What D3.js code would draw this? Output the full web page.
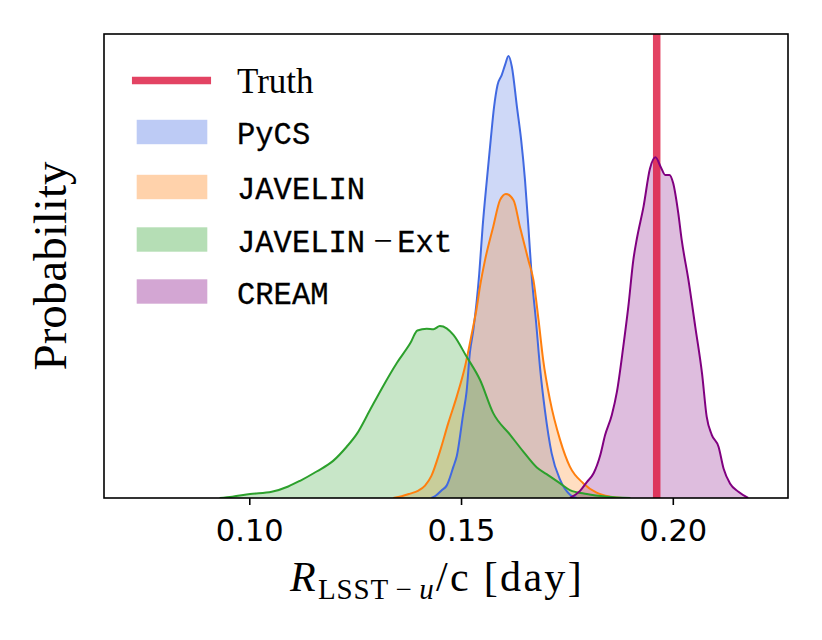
<!DOCTYPE html>
<html>
<head>
<meta charset="utf-8">
<script src="https://cdn.jsdelivr.net/npm/d3@7/dist/d3.min.js"></script>
<style>
  body { margin: 0; background: #fff; }
</style>
</head>
<body>
<div id="graf"></div>
<script>
// Datos (densidad relativa, pico de PyCS = 100)
const seriesNames = ["PyCS", "JAVELIN", "JAVELIN−Ext", "CREAM"]
const seriesColors = ["#4169e1", "#ff7f0e", "#2ca02c", "#800080"]
const truthDelay = 0.1962
const xTicks = [0.10, 0.15, 0.20]

const pycsDelay = [0.1430, 0.1440, 0.1455, 0.1466, 0.1482, 0.1490, 0.1505, 0.1513, 0.1521, 0.1529, 0.1543, 0.1551, 0.1561, 0.1570, 0.1578, 0.1586, 0.1596, 0.1604, 0.1612, 0.1620, 0.1632, 0.1642, 0.1651, 0.1659, 0.1667, 0.1677, 0.1687, 0.1698, 0.1714, 0.1734, 0.1758, 0.1773]
const pycsDensity = [0, 0.5, 1.8, 2.8, 7.1, 9.5, 19, 24, 33, 38, 50.8, 61.4, 72, 81, 88.5, 93.4, 95.7, 98, 100, 97.6, 88.5, 81, 72, 61.4, 50, 40, 29, 19.9, 10.1, 4.1, 0.7, 0]

const javelinDelay = [0.1340, 0.1360, 0.1380, 0.1398, 0.1415, 0.1430, 0.1450, 0.1470, 0.1490, 0.1510, 0.1525, 0.1537, 0.1545, 0.1557, 0.1576, 0.1592, 0.1606, 0.1624, 0.1639, 0.1659, 0.1671, 0.1683, 0.1694, 0.1710, 0.1734, 0.1757, 0.1789, 0.1820, 0.1852, 0.1880]
const javelinDensity = [0, 0.4, 1.0, 1.6, 2.8, 5.0, 10.5, 17, 23, 30, 37, 43, 48, 54, 61.4, 67.4, 68.8, 67.4, 61.4, 53.8, 49.3, 40.3, 31.2, 22.2, 13.1, 7.1, 3.3, 1.2, 0.3, 0]

const extDelay = [0.0930, 0.0960, 0.1002, 0.1053, 0.1092, 0.1120, 0.1159, 0.1198, 0.1230, 0.1254, 0.1285, 0.1313, 0.1348, 0.1380, 0.1397, 0.1419, 0.1435, 0.1450, 0.1466, 0.1482, 0.1513, 0.1545, 0.1576, 0.1616, 0.1647, 0.1679, 0.1702, 0.1734, 0.1757, 0.1797, 0.1844, 0.1900]
const extDensity = [0, 0.3, 0.9, 1.4, 2.6, 3.9, 6.0, 8.4, 11.6, 14.5, 19.9, 24.8, 30.5, 35.0, 37.9, 38.3, 38.2, 38.9, 38.4, 36.9, 32.0, 26.7, 19.2, 14.3, 10.5, 6.9, 5.4, 3.3, 1.8, 0.9, 0.3, 0]

const creamDelay = [0.1757, 0.1781, 0.1797, 0.1813, 0.1829, 0.1840, 0.1856, 0.1868, 0.1883, 0.1895, 0.1907, 0.1915, 0.1931, 0.1946, 0.1959, 0.1972, 0.1982, 0.1992, 0.2001, 0.2013, 0.2021, 0.2037, 0.2053, 0.2069, 0.2080, 0.2092, 0.2108, 0.2120, 0.2135, 0.2155, 0.2178]
const creamDensity = [0, 1.6, 3.6, 5.6, 9.8, 14.2, 18.8, 24, 34.2, 43.3, 54, 58.6, 66, 74.5, 77.1, 74.8, 73.1, 73.1, 71.2, 64.4, 58.4, 49.3, 38.8, 28.2, 18.4, 14.3, 11.6, 6.6, 3.3, 1.4, 0]

const draw = () => {
  const anchoTotal = 822
  const altoTotal = 640
  const box = { left: 104, right: 788, top: 34, bottom: 498 }

  const delays = [pycsDelay, javelinDelay, extDelay, creamDelay]
  const densities = [pycsDensity, javelinDensity, extDensity, creamDensity]
  const series = seriesNames.map((name, i) => ({
    name,
    color: seriesColors[i],
    values: delays[i].map((d, j) => [d, densities[i][j]]),
  }))

  // Escaladores
  const x = d3.scaleLinear().domain([0.0657, 0.2272]).range([box.left, box.right])
  const y = d3.scaleLinear().domain([0, 105]).range([box.bottom, box.top])

  const svg = d3
    .select("#graf")
    .append("svg")
    .attr("width", anchoTotal)
    .attr("height", altoTotal)

  svg
    .append("clipPath")
    .attr("id", "clip")
    .append("rect")
    .attr("x", box.left)
    .attr("y", box.top)
    .attr("width", box.right - box.left)
    .attr("height", box.bottom - box.top)

  const chart = svg.append("g").attr("clip-path", "url(#clip)")

  const area = d3
    .area()
    .x((d) => x(d[0]))
    .y0(y(0))
    .y1((d) => y(d[1]))
    .curve(d3.curveMonotoneX)
  const line = d3
    .line()
    .x((d) => x(d[0]))
    .y((d) => y(d[1]))
    .curve(d3.curveMonotoneX)

  // Rellenos
  chart
    .selectAll("path.fill")
    .data(series)
    .join("path")
    .attr("class", "fill")
    .attr("d", (d) => area(d.values))
    .attr("fill", (d) => d.color)
    .attr("fill-opacity", 0.26)

  // Valor verdadero
  chart
    .append("line")
    .attr("x1", x(truthDelay))
    .attr("x2", x(truthDelay))
    .attr("y1", box.top)
    .attr("y2", box.bottom)
    .attr("stroke", "#dc143c")
    .attr("stroke-opacity", 0.8)
    .attr("stroke-width", 7.5)

  // Curvas
  chart
    .selectAll("path.curve")
    .data(series)
    .join("path")
    .attr("class", "curve")
    .attr("d", (d) => line(d.values))
    .attr("fill", "none")
    .attr("stroke", (d) => d.color)
    .attr("stroke-width", 2)
    .attr("stroke-linejoin", "round")

  // Eje x
  const xAxis = d3
    .axisBottom(x)
    .tickValues(xTicks)
    .tickFormat(d3.format(".2f"))
    .tickSize(7)
    .tickSizeOuter(0)
    .tickPadding(14)

  const xAxisGroup = svg
    .append("g")
    .attr("transform", `translate(0, ${box.bottom})`)
    .call(xAxis)
  xAxisGroup.select(".domain").remove()
  xAxisGroup.selectAll("line").attr("stroke", "#000").attr("stroke-width", 1.6)
  xAxisGroup
    .selectAll("text")
    .attr("fill", "#000")
    .style("font-family", "'DejaVu Sans'")
    .style("font-size", "30.5px")

  // Marco
  svg
    .append("rect")
    .attr("x", box.left)
    .attr("y", box.top)
    .attr("width", box.right - box.left)
    .attr("height", box.bottom - box.top)
    .attr("fill", "none")
    .attr("stroke", "#000")
    .attr("stroke-width", 1.6)

  // Etiquetas de ejes
  const xLabel = svg
    .append("text")
    .attr("x", 437)
    .attr("y", 591)
    .attr("text-anchor", "middle")
    .style("font-family", "'Liberation Serif'")
    .style("font-size", "42px")
    .style("letter-spacing", "2.3px")
  xLabel.append("tspan").style("font-style", "italic").text("R")
  xLabel
    .append("tspan")
    .attr("dy", 8)
    .style("font-size", "29px")
    .style("letter-spacing", "0.8px")
    .text("LSST\u2009−\u2009")
  xLabel
    .append("tspan")
    .style("font-size", "29px")
    .style("font-style", "italic")
    .text("u")
  xLabel.append("tspan").attr("dy", -8).text("/c [day]")

  svg
    .append("text")
    .attr("transform", `translate(66, ${(box.top + box.bottom) / 2}) rotate(-90)`)
    .attr("text-anchor", "middle")
    .style("font-family", "'Liberation Serif'")
    .style("font-size", "47px")
    .text("Probability")

  // Leyenda
  const legend = svg.append("g")
  legend
    .append("line")
    .attr("x1", 135.7)
    .attr("x2", 207.3)
    .attr("y1", 80.5)
    .attr("y2", 80.5)
    .attr("stroke", "#dc143c")
    .attr("stroke-opacity", 0.8)
    .attr("stroke-width", 7.5)
    .attr("stroke-linecap", "square")
  legend
    .append("text")
    .attr("x", 237)
    .attr("y", 93)
    .style("font-family", "'Liberation Serif'")
    .style("font-size", "35px")
    .text("Truth")

  const rowsY = [132, 187, 239.5, 291.5]
  const items = legend
    .selectAll("g.item")
    .data(series)
    .join("g")
    .attr("class", "item")
    .attr("transform", (d, i) => `translate(0, ${rowsY[i]})`)
  items
    .append("rect")
    .attr("x", 136.7)
    .attr("y", -12.2)
    .attr("width", 70.6)
    .attr("height", 24.4)
    .attr("fill", (d) => d.color)
    .attr("fill-opacity", 0.35)
  items.each(function (d) {
    const t = d3
      .select(this)
      .append("text")
      .attr("x", 237)
      .attr("y", 12)
      .attr("stroke", "#000")
      .attr("stroke-width", 0.3)
      .style("font-family", "'Liberation Mono'")
      .style("font-size", "30.5px")
    const parts = d.name.split("−")
    t.append("tspan").text(parts[0])
    if (parts.length > 1) {
      t.append("tspan")
        .attr("dx", 8)
        .attr("stroke-width", 0)
        .style("font-family", "'Liberation Serif'")
        .style("font-size", "34px")
        .text("−")
      t.append("tspan").attr("dx", 5).text(parts[1])
    }
  })
}

draw()
</script>
</body>
</html>
